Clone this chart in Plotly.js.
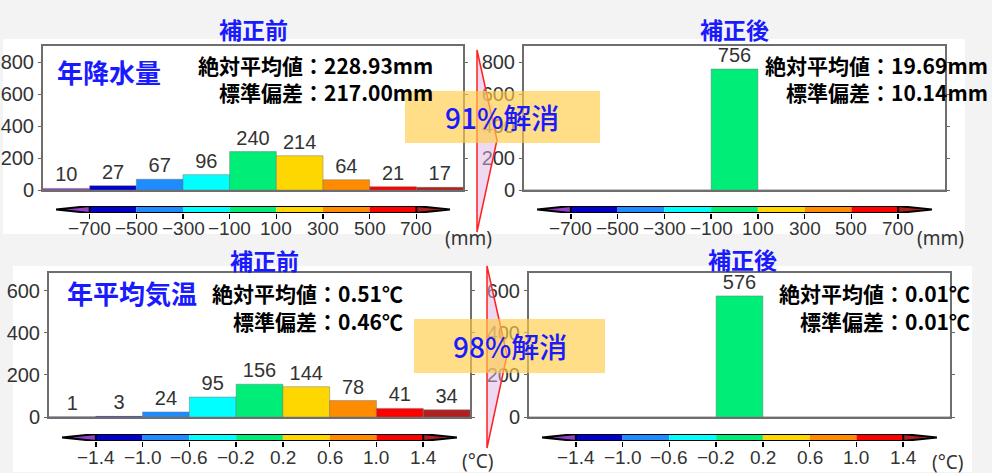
<!DOCTYPE html>
<html>
<head>
<meta charset="utf-8">
<script src="https://cdn.plot.ly/plotly-3.0.1.min.js"></script>
<style>
html,body{margin:0;padding:0;background:#f3f3f3;}
#chart{width:992px;height:473px;}
</style>
</head>
<body>
<div id="chart"></div>
<script>
// ---------------- data ----------------
const precipEdges = [-700, -500, -300, -100, 100, 300, 500, 700];
const precipBefore = [10, 27, 67, 96, 240, 214, 64, 21, 17];
const precipAfter = [0, 0, 0, 0, 756, 0, 0, 0, 0];
const tempEdges = [-1.4, -1.0, -0.6, -0.2, 0.2, 0.6, 1.0, 1.4];
const tempBefore = [1, 3, 24, 95, 156, 144, 78, 41, 34];
const tempAfter = [0, 0, 0, 0, 576, 0, 0, 0, 0];
const binColors = ['#9440c8', '#0000c8', '#1e8cff', '#00ffff', '#00ee78', '#ffd700', '#ff8c00', '#ff0000', '#b02020'];
const precipYTicks = [0, 200, 400, 600, 800];
const tempYTicks = [0, 200, 400, 600];
const panelTitles = ['補正前', '補正後', '補正前', '補正後'];
const varNames = ['年降水量', '年平均気温'];
const precipStatsBefore = ['絶対平均値：228.93mm', '標準偏差：217.00mm'];
const precipStatsAfter = ['絶対平均値：19.69mm', '標準偏差：10.14mm'];
const tempStatsBefore = ['絶対平均値：0.51℃', '標準偏差：0.46℃'];
const tempStatsAfter = ['絶対平均値：0.01℃', '標準偏差：0.01℃'];
const reductionLabels = ['91%解消', '98%解消'];
const unitLabels = ['(mm)', '(°C)'];

// ---------------- helpers ----------------
const W = 992, H = 473;
const px = x => x / W;
const py = y => 1 - y / H;
const NARROW = '"Liberation Sans", Arial, sans-serif';
const JP = '"Noto Sans CJK JP", "Noto Sans", sans-serif';
const BLUE = '#1a1aff';

function centers(edges) {
  const w = edges[1] - edges[0];
  const c = [edges[0] - w / 2];
  for (let i = 0; i < edges.length - 1; i++) c.push((edges[i] + edges[i + 1]) / 2);
  c.push(edges[edges.length - 1] + w / 2);
  return c;
}
function fmtTick(v, dec) {
  const s = Math.abs(v).toFixed(dec);
  return v < -1e-9 ? '−' + s : s;
}

const panels = [
  {a: 1, b: 2, xpx: [43, 463], ybar: [46, 190], ycb: [206, 213], lab: 228, edges: precipEdges, vals: precipBefore, ymax: 900, yt: precipYTicks, dec: 0},
  {a: 3, b: 4, xpx: [524, 945], ybar: [46, 190], ycb: [206, 213], lab: 228, edges: precipEdges, vals: precipAfter, ymax: 900, yt: precipYTicks, dec: 0},
  {a: 5, b: 6, xpx: [49, 470], ybar: [273, 417], ycb: [434, 441], lab: 457, edges: tempEdges, vals: tempBefore, ymax: 685, yt: tempYTicks, dec: 1},
  {a: 7, b: 8, xpx: [529, 950], ybar: [273, 417], ycb: [434, 441], lab: 457, edges: tempEdges, vals: tempAfter, ymax: 685, yt: tempYTicks, dec: 1}
];

const traces = [];
const layout = {
  width: W, height: H,
  margin: {l: 0, r: 0, t: 0, b: 0},
  paper_bgcolor: '#f3f3f3',
  plot_bgcolor: '#ffffff',
  showlegend: false,
  shapes: [],
  annotations: []
};
const axName = (c, n) => c + 'axis' + (n === 1 ? '' : n);
const tickFont = {family: NARROW, size: 20, color: '#333333'};
const cbFont = {family: NARROW, size: 19, color: '#333333'};

panels.forEach(p => {
  const c = centers(p.edges);
  const w = p.edges[1] - p.edges[0];
  const lo = p.edges[0], hi = p.edges[p.edges.length - 1];
  const ext = 0.72 * w;
  const xr = [lo - w, hi + w];
  const xs = 'x' + (p.a === 1 ? '' : p.a), ys = 'y' + (p.a === 1 ? '' : p.a);
  const xb = 'x' + p.b, yb = 'y' + p.b;

  traces.push({
    type: 'bar', x: c, y: p.vals, width: w, xaxis: xs, yaxis: ys,
    marker: {color: binColors, line: {color: 'rgba(110,110,110,0.45)', width: 1}},
    text: p.vals.map(v => v > 0 ? String(v) : ''),
    textposition: 'outside', textfont: tickFont, cliponaxis: false, hoverinfo: 'skip'
  });
  // colour bar body
  traces.push({
    type: 'bar', x: c.slice(1, -1), y: c.slice(1, -1).map(() => 1), base: 0, width: w,
    xaxis: xb, yaxis: yb, marker: {color: binColors.slice(1, -1), line: {width: 0}}, hoverinfo: 'skip'
  });
  // end triangles
  traces.push({type: 'scatter', mode: 'lines', x: [lo, lo - ext, lo, lo], y: [1, 0.5, 0, 1], fill: 'toself',
    fillcolor: binColors[0], line: {width: 0}, xaxis: xb, yaxis: yb, hoverinfo: 'skip', cliponaxis: false});
  traces.push({type: 'scatter', mode: 'lines', x: [hi, hi + ext, hi, hi], y: [1, 0.5, 0, 1], fill: 'toself',
    fillcolor: binColors[binColors.length - 1], line: {width: 0}, xaxis: xb, yaxis: yb, hoverinfo: 'skip', cliponaxis: false});
  // outline
  traces.push({type: 'scatter', mode: 'lines',
    x: [lo, hi, hi + ext, hi, lo, lo - ext, lo, null, lo, lo, null, hi, hi],
    y: [1, 1, 0.5, 0, 0, 0.5, 1, null, 0, 1, null, 0, 1],
    line: {color: '#000000', width: 2}, xaxis: xb, yaxis: yb, hoverinfo: 'skip', cliponaxis: false});

  const xdom = [px(p.xpx[0]), px(p.xpx[1])];
  layout[axName('x', p.a)] = {domain: xdom, range: xr, anchor: ys, showline: true, mirror: true,
    linecolor: '#6e6e6e', linewidth: 2, showticklabels: false, ticks: '', showgrid: false, zeroline: false, fixedrange: true};
  layout[axName('y', p.a)] = {domain: [py(p.ybar[1]), py(p.ybar[0])], range: [0, p.ymax], anchor: xs,
    showline: true, mirror: 'ticks', linecolor: '#6e6e6e', linewidth: 2, ticks: 'outside', ticklen: 3,
    tickcolor: '#666666', tickvals: p.yt, tickfont: tickFont, showgrid: false, zeroline: false, fixedrange: true};
  layout[axName('x', p.b)] = {domain: xdom, range: xr, anchor: yb, showline: false, ticks: 'outside', ticklen: 5,
    tickwidth: 1.5, tickcolor: '#000000', tickvals: p.edges, showticklabels: false,
    showgrid: false, zeroline: false, fixedrange: true};
  layout[axName('y', p.b)] = {domain: [py(p.ycb[1]), py(p.ycb[0])], range: [0, 1], anchor: xb, visible: false, fixedrange: true};
  // colour-bar tick labels
  p.edges.forEach(v => {
    layout.annotations.push({text: fmtTick(v, p.dec), x: v, xref: xb, y: py(p.lab), yref: 'paper',
      xanchor: 'center', yanchor: 'middle', showarrow: false, font: cbFont});
  });
});

// ---------------- decorations ----------------
function rect(x0, y0, x1, y1, fill, layer) {
  return {type: 'rect', xref: 'paper', yref: 'paper', x0: px(x0), x1: px(x1), y0: py(y1), y1: py(y0),
    fillcolor: fill, line: {width: 0}, layer: layer};
}
function tri(xl, yt, xa, ya, yb) {
  return {type: 'path', xref: 'paper', yref: 'paper', layer: 'above',
    path: `M ${px(xl)} ${py(yt)} L ${px(xa)} ${py(ya)} L ${px(xl)} ${py(yb)} Z`,
    fillcolor: 'rgba(222,180,228,0.5)', line: {color: '#ff2020', width: 1.5}};
}
layout.shapes.push(rect(3, 39, 965, 234, '#ffffff', 'below'));
layout.shapes.push(rect(13, 266, 972, 472, '#ffffff', 'below'));
layout.shapes.push(tri(477, 50, 497, 140, 232));
layout.shapes.push(tri(487, 266, 507, 355, 448));
layout.shapes.push(rect(405, 91, 600, 143, 'rgba(255,205,70,0.65)', 'above'));
layout.shapes.push(rect(414, 319, 605, 373, 'rgba(255,205,70,0.65)', 'above'));

function ann(text, x, y, xanchor, font) {
  layout.annotations.push({text: text, x: px(x), y: py(y), xref: 'paper', yref: 'paper',
    xanchor: xanchor, yanchor: 'middle', showarrow: false, font: font});
}
const titleFont = {family: JP, size: 23, color: BLUE, weight: 'bold'};
const titlePos = [[253, 29], [734, 29], [264, 260], [742, 259]];
panelTitles.forEach((t, i) => ann(t, titlePos[i][0], titlePos[i][1], 'center', titleFont));

const nameFont = {family: JP, size: 26, color: BLUE, weight: 'bold'};
ann(varNames[0], 55, 71, 'left', nameFont);
ann(varNames[1], 65, 292, 'left', nameFont);

const statFont = {family: JP, size: 21, color: '#000000', weight: 'bold'};
const statSets = [[precipStatsBefore, 435, 64.5, 92], [precipStatsAfter, 990, 64.5, 92],
  [tempStatsBefore, 405, 293, 321], [tempStatsAfter, 972, 293, 321]];
statSets.forEach(s => { ann(s[0][0], s[1], s[2], 'right', statFont); ann(s[0][1], s[1], s[3], 'right', statFont); });

const redFont = {family: JP, size: 28, color: BLUE, weight: 500};
ann(reductionLabels[0], 502, 117, 'center', redFont);
ann(reductionLabels[1], 510, 346, 'center', redFont);

const unitFont = {family: '"Noto Sans", sans-serif', size: 19, color: '#333333'};
ann(unitLabels[0], 468, 238, 'center', unitFont);
ann(unitLabels[0], 940, 238, 'center', unitFont);
ann(unitLabels[1], 478, 461, 'center', unitFont);
ann(unitLabels[1], 948, 462, 'center', unitFont);

Plotly.newPlot('chart', traces, layout, {displayModeBar: false, staticPlot: true});
</script>
</body>
</html>
